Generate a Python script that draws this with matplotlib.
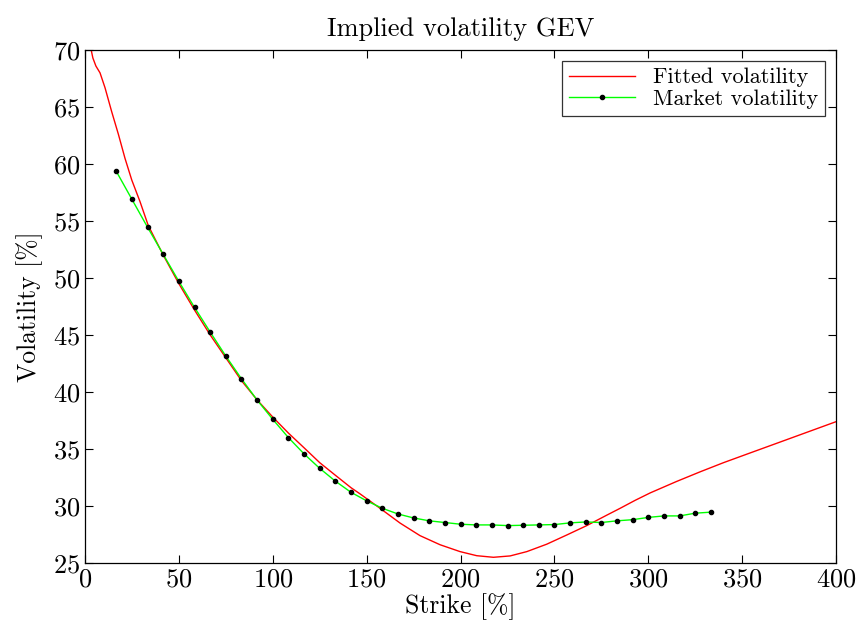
import matplotlib
matplotlib.use("Agg")
import matplotlib.pyplot as plt

plt.rcParams["font.family"] = ["cmr10", "DejaVu Serif"]
plt.rcParams["axes.formatter.use_mathtext"] = True
plt.rcParams["mathtext.fontset"] = "cm"

# Market quotes (strike in %, vol in %)
market_strike = [16.67, 25.0, 33.33, 41.67, 50.0, 58.33, 66.67, 75.0, 83.33, 91.67,
                 100.0, 108.33, 116.67, 125.0, 133.33, 141.67, 150.0, 158.33, 166.67, 175.0,
                 183.33, 191.67, 200.0, 208.33, 216.67, 225.0, 233.33, 241.67, 250.0, 258.33,
                 266.67, 275.0, 283.33, 291.67, 300.0, 308.33, 316.67, 325.0, 333.33]
market_vol = [59.36, 56.9, 54.45, 52.07, 49.7, 47.42, 45.26, 43.15, 41.16, 39.29,
              37.6, 36.0, 34.57, 33.3, 32.18, 31.2, 30.45, 29.8, 29.3, 28.95,
              28.7, 28.55, 28.4, 28.34, 28.34, 28.28, 28.31, 28.34, 28.37, 28.52,
              28.6, 28.55, 28.7, 28.8, 29.0, 29.13, 29.13, 29.37, 29.46]

# GEV fit
fit_strike = [3.3, 4.2, 5.8, 8.0, 10.65, 14.2, 17.8, 21.3, 24.9, 29.3, 33.7, 41.7, 50, 58.3,
              66.7, 75, 83.3, 91.7, 100, 108.3, 116.7, 125, 133.3, 141.7, 146.5, 157.1,
              167.8, 178.4, 189.1, 199.7, 208.6, 217.5, 226.4, 235.3, 245.9, 256.6, 267.2,
              277.9, 285, 293, 301, 315, 327.6, 340, 353.3, 370, 385, 400]
fit_vol = [70.0, 69.3, 68.6, 68.0, 66.7, 64.6, 62.6, 60.5, 58.6, 56.7, 54.6, 52.0, 49.5, 47.2,
           45.0, 43.0, 41.0, 39.3, 37.8, 36.4, 35.1, 33.8, 32.7, 31.6, 31.06, 29.8,
           28.5, 27.4, 26.6, 26.0, 25.64, 25.5, 25.62, 26.0, 26.65, 27.46, 28.28,
           29.2, 29.8, 30.5, 31.15, 32.15, 33.0, 33.8, 34.6, 35.6, 36.5, 37.4]

fig = plt.figure(figsize=(8.62, 6.35), dpi=100)
ax = fig.add_axes([0.0986, 0.1134, 0.8714, 0.8078])

ax.plot(fit_strike, fit_vol, color="#ff0000", lw=1.0, label="Fitted volatility")
ax.plot(market_strike, market_vol, color="#00ff00", lw=1.0, marker=".",
        markersize=6, markerfacecolor="black", markeredgecolor="black",
        label="Market volatility")

ax.set_xlim(0, 400)
ax.set_ylim(25, 70)
ax.set_xticks(range(0, 401, 50))
ax.set_yticks(range(25, 71, 5))
ax.tick_params(direction="in", top=True, right=True, length=6, width=0.8,
               labelsize=19)
for s in ax.spines.values():
    s.set_linewidth(0.9)

ax.set_title("Implied volatility GEV", fontsize=19, pad=10)
ax.set_xlabel("Strike [%]", fontsize=18.5, labelpad=1)
ax.set_ylabel("Volatility [%]", fontsize=18.5, labelpad=7)

leg = ax.legend(loc="upper right", fontsize=16, frameon=True, fancybox=False,
                edgecolor="black", borderpad=0.3, labelspacing=0.1,
                handlelength=3.0, borderaxespad=0.5)
leg.get_frame().set_linewidth(0.9)

fig.savefig("out.png", dpi=100)
